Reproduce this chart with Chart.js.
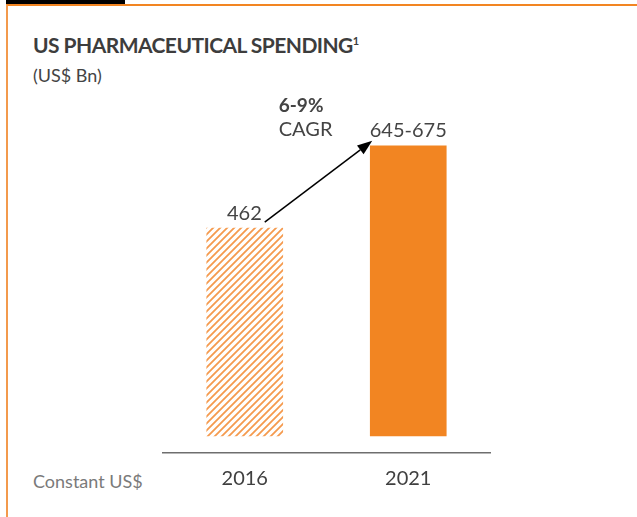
<!DOCTYPE html>
<html>
<head>
<meta charset="utf-8">
<script src="https://cdn.jsdelivr.net/npm/chart.js@4/dist/chart.umd.min.js"></script>
<style>
    html, body { margin: 0; padding: 0; background: #fff; }
    #wrap { position: relative; width: 637px; height: 517px; overflow: hidden; font-family: Lato, sans-serif; }
    #topBlack { position: absolute; left: 6px; top: 0; width: 119px; height: 4px; background: #000; }
    #frame { position: absolute; left: 6px; top: 4px; right: -10px; bottom: -10px;
             border-top: 2px solid #F28522; border-left: 2px solid #F39A4C; }
    #title { position: absolute; left: 33px; top: 32px; font-size: 21px; font-weight: 700; color: #3d3d3d; letter-spacing: -0.55px; }
    #title sup { font-size: 11px; vertical-align: 8px; }
    #unit { position: absolute; left: 33px; top: 64px; font-size: 18px; color: #444; }
    #basis { position: absolute; left: 33px; top: 470px; font-size: 18px; color: #7a7a7a; font-weight: 400; }
    #chart { position: absolute; left: 0; top: 0; }
</style>
</head>
<body>
<div id="wrap">
    <div id="topBlack"></div>
    <div id="frame"></div>
    <div id="title">US PHARMACEUTICAL SPENDING<sup>1</sup></div>
    <div id="unit">(US$ Bn)</div>
    <div id="basis">Constant US$</div>
    <canvas id="chart" width="637" height="517"></canvas>
</div>
<script>
// Chart data
const categories = ['2016', '2021'];
const spending = [462, 645];
const valueLabels = ['462', '645-675'];
const cagrLines = ['6-9%', 'CAGR'];

// Hatched fill for the 2016 bar
function makeHatch() {
    const size = 7;
    const c = document.createElement('canvas');
    c.width = size;
    c.height = size;
    const g = c.getContext('2d');
    g.strokeStyle = '#F59A4E';
    g.lineWidth = 1.8;
    g.beginPath();
    g.moveTo(-1, size + 1); g.lineTo(size + 1, -1);
    g.moveTo(-1, 1); g.lineTo(1, -1);
    g.moveTo(size - 1, size + 1); g.lineTo(size + 1, size - 1);
    g.stroke();
    return g.createPattern(c, 'repeat');
}

// Value labels, arrow and CAGR note
const annotations = {
    id: 'annotations',
    afterDatasetsDraw(chart) {
        const ctx = chart.ctx;
        const bars = chart.getDatasetMeta(0).data;
        const b0 = bars[0], b1 = bars[1];
        ctx.save();
        ctx.fillStyle = '#444';
        ctx.textBaseline = 'middle';
        ctx.font = '20px Lato';
        ctx.textAlign = 'right';
        ctx.fillText(valueLabels[0], b0.x + 17, b0.y - 15);
        ctx.textAlign = 'center';
        ctx.fillText(valueLabels[1], b1.x, b1.y - 15);

        ctx.textAlign = 'left';
        ctx.font = 'bold 19px Lato';
        ctx.fillText(cagrLines[0], b0.x + 34, b1.y - 40);
        ctx.font = '20px Lato';
        ctx.fillText(cagrLines[1], b0.x + 34, b1.y - 16);

        // arrow
        const x1 = b0.x + 20, y1 = b0.y - 6;
        const x2 = b1.x - 36, y2 = b1.y - 5;
        const ang = Math.atan2(y2 - y1, x2 - x1);
        const head = 15, half = 5.5;
        ctx.strokeStyle = '#000';
        ctx.lineWidth = 1.5;
        ctx.beginPath();
        ctx.moveTo(x1, y1);
        ctx.lineTo(x2 - head * Math.cos(ang), y2 - head * Math.sin(ang));
        ctx.stroke();
        ctx.fillStyle = '#000';
        ctx.beginPath();
        ctx.moveTo(x2, y2);
        ctx.lineTo(x2 - head * Math.cos(ang) + half * Math.sin(ang), y2 - head * Math.sin(ang) - half * Math.cos(ang));
        ctx.lineTo(x2 - head * Math.cos(ang) - half * Math.sin(ang), y2 - head * Math.sin(ang) + half * Math.cos(ang));
        ctx.closePath();
        ctx.fill();
        ctx.restore();
    }
};

const barFills = [makeHatch(), '#F28522'];

new Chart(document.getElementById('chart'), {
    type: 'bar',
    data: {
        labels: categories,
        datasets: [{
            data: spending,
            backgroundColor: barFills,
            borderWidth: 0,
            barThickness: 76
        }]
    },
    options: {
        responsive: false,
        animation: false,
        layout: { padding: { top: 76, left: 163, right: 147, bottom: 24 } },
        plugins: { legend: { display: false }, tooltip: { enabled: false } },
        scales: {
            x: {
                grid: { drawOnChartArea: false, drawTicks: false },
                border: { display: true, color: '#6e6e6e', width: 1.5 },
                ticks: { color: '#404040', font: { family: 'Lato', size: 20 }, padding: 14 },
                afterFit(axis) { axis.height = 40; }
            },
            y: {
                display: false,
                min: -38,
                max: 800
            }
        }
    },
    plugins: [annotations]
});
</script>
</body>
</html>
